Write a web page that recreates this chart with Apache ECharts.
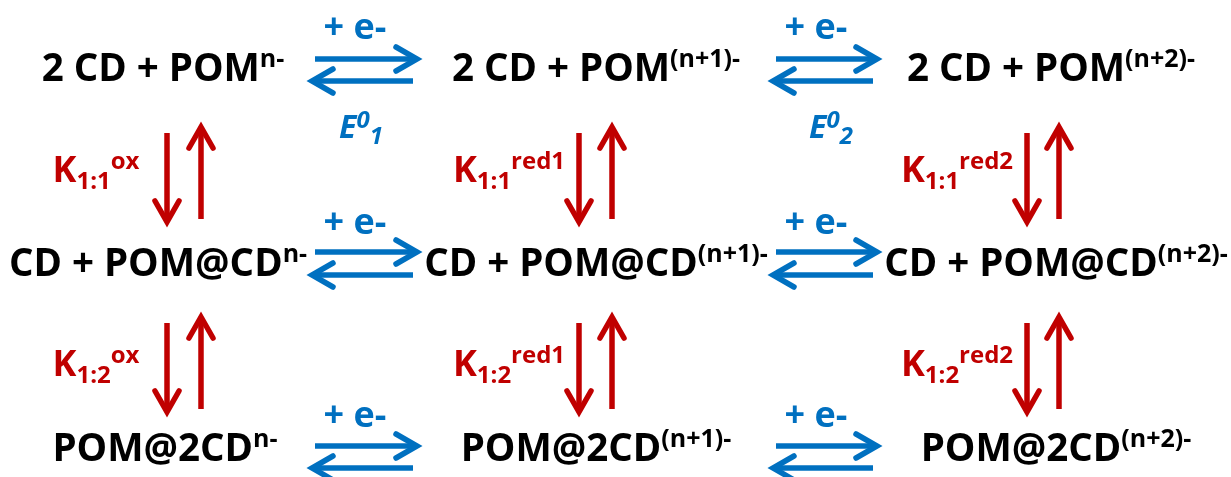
<!DOCTYPE html>
<html><head><meta charset="utf-8">
<script src="https://cdn.jsdelivr.net/npm/echarts@6/dist/echarts.min.js"></script>
<style>html,body{margin:0;padding:0;background:#fff}#c{width:1231px;height:477px}</style>
</head><body><div id="c"></div>
<script>
// ---------- content ----------
const rowFormulas = ['2 CD + POM', 'CD + POM@CD', 'POM@2CD'];
const charges = ['n-', '(n+1)-', '(n+2)-'];
const electronLabel = '+ e-';
const potentialSubs = ['1', '2'];
const bindingSubs = ['1:1', '1:2'];
const bindingSups = ['ox', 'red1', 'red2'];

// ---------- layout (axis units = pixels) ----------
const speciesX = [[163, 596, 1051], [158, 596, 1056], [165, 596, 1056]];
const speciesY = [70, 265, 450];
const hArrowX = [[315, 417], [776, 877]];
const hArrowY = [[59, 81], [252, 275], [446, 468]];
const eLabelX = [355, 816];
const eLabelY = [29, 224, 417];
const potLabelX = [361, 831];
const potLabelY = 129;
const vArrowX = [[167, 201], [579, 612], [1027, 1059]];
const vArrowY = [[130, 222], [320, 412]];
const kLabelX = [96, 509, 957];
const kLabelY = [172, 366];

const BLUE = '#0070C0', RED = '#C00000', BLACK = '#000000';
const FONT = "'Open Sans', sans-serif";

// ---------- arrows ----------
const arrows = [];
hArrowY.forEach(function (ys) {
  hArrowX.forEach(function (xs) {
    arrows.push([xs[0], ys[0], xs[1], ys[0], 0]);
    arrows.push([xs[1] - 4, ys[1], xs[0] - 3, ys[1], 0]);
  });
});
vArrowY.forEach(function (ys) {
  vArrowX.forEach(function (xs) {
    arrows.push([xs[0], ys[0] + 3, xs[0], ys[1], 1]);
    arrows.push([xs[1], ys[1] - 3, xs[1], ys[0] - 3, 1]);
  });
});

// ---------- text labels ----------
const texts = [];
rowFormulas.forEach(function (f, r) {
  charges.forEach(function (ch, c) {
    texts.push({ value: [speciesX[r][c], speciesY[r]], label: { formatter: '{m|' + f + '}{s|' + ch + '}' } });
  });
});
eLabelY.forEach(function (y) {
  eLabelX.forEach(function (x) {
    texts.push({ value: [x, y], label: { formatter: '{b|' + electronLabel + '}' } });
  });
});
potentialSubs.forEach(function (s, p) {
  texts.push({ value: [potLabelX[p], potLabelY], label: { formatter: '{e|E}{ep|0}{es|' + s + '}' } });
});
bindingSubs.forEach(function (sub, g) {
  bindingSups.forEach(function (sup, c) {
    texts.push({ value: [kLabelX[c], kLabelY[g]], label: { formatter: '{k|K}{ks|' + sub + '}{kp|' + sup + '}' } });
  });
});

const chart = echarts.init(document.getElementById('c'), null, { renderer: 'canvas' });
chart.setOption({
  animation: false,
  backgroundColor: '#ffffff',
  grid: { left: 0, right: 0, top: 0, bottom: 0 },
  xAxis: { type: 'value', min: 0, max: 1231, show: false },
  yAxis: { type: 'value', min: 0, max: 477, inverse: true, show: false },
  series: [
    {
      type: 'custom',
      clip: false,
      data: arrows,
      renderItem: function (params, api) {
        const p1 = api.coord([api.value(0), api.value(1)]);
        const p2 = api.coord([api.value(2), api.value(3)]);
        const color = api.value(4) === 0 ? BLUE : RED;
        const dx = p2[0] - p1[0], dy = p2[1] - p1[1];
        const len = Math.hypot(dx, dy);
        const ux = dx / len, uy = dy / len;
        const hl = 21, hw = 12;
        const bx = p2[0] - ux * hl, by = p2[1] - uy * hl;
        const a1 = [bx - uy * hw, by + ux * hw], a2 = [bx + uy * hw, by - ux * hw];
        return {
          type: 'group',
          children: [
            { type: 'line', shape: { x1: p1[0], y1: p1[1], x2: p2[0] - ux * 3, y2: p2[1] - uy * 3 },
              style: { stroke: color, lineWidth: 5.5, lineCap: 'butt' } },
            { type: 'polyline', shape: { points: [a1, p2, a2] },
              style: { stroke: color, lineWidth: 5.5, fill: null, lineJoin: 'miter', lineCap: 'round' } }
          ]
        };
      }
    },
    {
      type: 'scatter',
      symbolSize: 1,
      itemStyle: { color: 'rgba(255,255,255,0)', opacity: 1 },
      data: texts,
      label: {
        show: true,
        position: 'inside',
        align: 'center',
        verticalAlign: 'middle',
        opacity: 1,
        textBorderWidth: 0,
        rich: {
          m: { fontFamily: FONT, fontWeight: 'bold', fontSize: 38.5, color: BLACK, lineHeight: 46 },
          s: { fontFamily: FONT, fontWeight: 'bold', fontSize: 25, color: BLACK, lineHeight: 22, verticalAlign: 'top' },
          b: { fontFamily: FONT, fontWeight: 'bold', fontSize: 36, color: BLUE, lineHeight: 40 },
          e: { fontFamily: FONT, fontWeight: 'bold', fontStyle: 'italic', fontSize: 32, color: BLUE, lineHeight: 40 },
          ep: { fontFamily: FONT, fontWeight: 'bold', fontStyle: 'italic', fontSize: 24, color: BLUE, lineHeight: 28, verticalAlign: 'top' },
          es: { fontFamily: FONT, fontWeight: 'bold', fontStyle: 'italic', fontSize: 24, color: BLUE, lineHeight: 14, verticalAlign: 'bottom' },
          k: { fontFamily: FONT, fontWeight: 'bold', fontSize: 36, color: RED, lineHeight: 44 },
          ks: { fontFamily: FONT, fontWeight: 'bold', fontSize: 24, color: RED, lineHeight: 10, verticalAlign: 'bottom' },
          kp: { fontFamily: FONT, fontWeight: 'bold', fontSize: 24, color: RED, lineHeight: 34, verticalAlign: 'top' }
        }
      }
    }
  ]
});
</script>
</body></html>
